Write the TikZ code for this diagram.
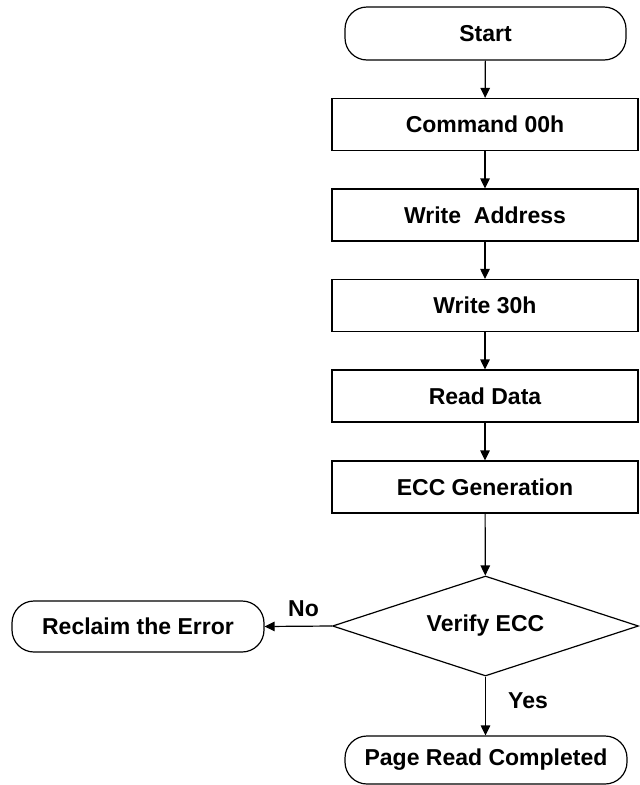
\documentclass[tikz,border=0pt]{standalone}
\usepackage{fontspec}
\setmainfont{Liberation Sans}
\usetikzlibrary{arrows.meta,shapes.geometric}
\begin{document}
\begin{tikzpicture}[x=1pt,y=-1pt,
  txt/.style={font=\fontsize{23}{27}\selectfont\bfseries},
  box/.style={txt,draw,line width=1.2pt,minimum width=306pt,minimum height=52pt,inner sep=0pt},
  term/.style={txt,draw,line width=1.2pt,rounded corners=22pt,minimum height=52pt,inner sep=0pt},
  dec/.style={txt,draw,diamond,aspect=3.06,line width=1.2pt,minimum width=306pt,minimum height=100pt,inner sep=0pt},
  arr/.style={-{Triangle[length=10pt,width=9.5pt]},line width=1.2pt}]
\useasboundingbox (0,0) rectangle (640,785);
\node[term,minimum width=281pt,minimum height=53pt] (start) at (485.5,33.5) {Start};
\node[box] (cmd) at (485,124.5) {Command 00h};
\node[box] (addr) at (485,215) {Write\ \ Address};
\node[box] (w30) at (485,305.5) {Write 30h};
\node[box] (rd) at (485,396) {Read Data};
\node[box] (ecc) at (485,487) {ECC Generation};
\node[dec] (ver) at (485.5,626) {Verify ECC};
\node[term,minimum width=252pt,minimum height=51pt] (rec) at (138,626.5) {Reclaim the Error};
\node[term,minimum width=282pt,minimum height=48pt] (done) at (486,760) {Page Read Completed};
\node[txt] (no) at (303.5,608.5) {No};
\node[txt] (yes) at (528,700.5) {Yes};
\draw[arr] (start) -- (cmd);
\draw[arr] (cmd) -- (addr);
\draw[arr] (addr) -- (w30);
\draw[arr] (w30) -- (rd);
\draw[arr] (rd) -- (ecc);
\draw[arr] (ecc) -- (ver);
\draw[arr] (ver.west) -- (rec.east);
\draw[arr] (ver.south) -- (done.north -| ver.south);
\end{tikzpicture}
\end{document}
